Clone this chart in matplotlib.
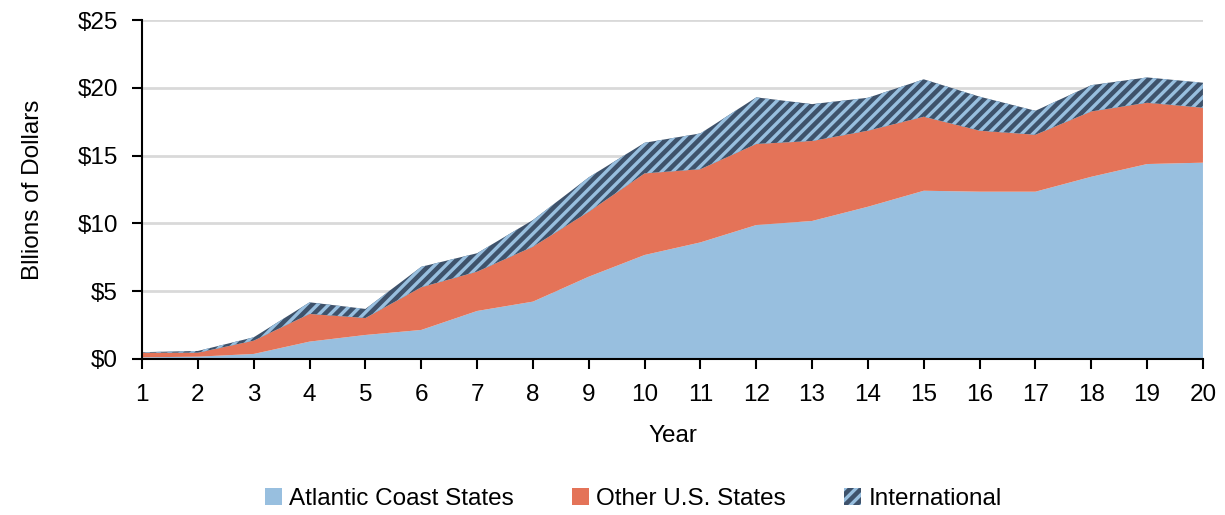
import matplotlib
matplotlib.use("Agg")
import matplotlib.pyplot as plt
import numpy as np

plt.rcParams['font.family'] = ['Liberation Sans', 'DejaVu Sans']
plt.rcParams['hatch.linewidth'] = 2.4

# values in billions of dollars
years = list(range(1, 21))
atlantic = [0.12, 0.17, 0.37, 1.28, 1.77, 2.14, 3.54, 4.23, 6.07, 7.67,
            8.6, 9.88, 10.18, 11.23, 12.41, 12.34, 12.34, 13.44, 14.38, 14.48]
other_us = [0.34, 0.29, 0.98, 2.04, 1.25, 3.15, 2.9, 4.05, 4.79, 6.02,
            5.4, 5.98, 5.9, 5.61, 5.46, 4.5, 4.2, 4.82, 4.52, 4.05]
international = [0.04, 0.13, 0.25, 0.86, 0.67, 1.51, 1.36, 1.97, 2.54, 2.26,
                 2.64, 3.44, 2.72, 2.43, 2.76, 2.51, 1.77, 1.94, 1.87, 1.85]
labels = ['Atlantic Coast States', 'Other U.S. States', 'International']
y_ticks = [0, 5, 10, 15, 20, 25]

blue = '#98bfdf'
orange = '#e47358'
navy = '#3e526b'

fig = plt.figure(figsize=(12.25, 5.15), dpi=100)
ax = fig.add_axes([0.116, 0.303, 0.866, 0.658])

a = np.array(atlantic)
b = a + np.array(other_us)
c = b + np.array(international)

ax.fill_between(years, 0, a, facecolor=blue, linewidth=0, label=labels[0], zorder=2)
ax.fill_between(years, a, b, facecolor=orange, linewidth=0, label=labels[1], zorder=2)
ax.fill_between(years, b, c, facecolor=navy, edgecolor=blue, hatch='///',
                linewidth=0, label=labels[2], zorder=2)

ax.set_xlim(1, 20)
ax.set_ylim(0, 25)
ax.set_xticks(years)
ax.set_yticks(y_ticks)
ax.set_yticklabels(['$' + str(v) for v in y_ticks])
ax.yaxis.grid(True, color='#d9d9d9', linewidth=2, zorder=0)
ax.set_axisbelow(True)

for s in ['top', 'right']:
    ax.spines[s].set_visible(False)
for s in ['left', 'bottom']:
    ax.spines[s].set_linewidth(1.5)
ax.tick_params(axis='both', labelsize=17.5, width=1.5, length=7, direction='out')
ax.tick_params(axis='x', pad=11)
ax.tick_params(axis='y', pad=10.5)

ax.set_xlabel('Year', fontsize=17.5, labelpad=14)
ax.set_ylabel('Bllions of Dollars', fontsize=17.5, labelpad=24)

fig.legend(loc='lower center', bbox_to_anchor=(0.517, -0.033), ncol=3, frameon=False,
           fontsize=17.5, handlelength=0.7, handleheight=0.7, handletextpad=0.3,
           columnspacing=2.4)

fig.savefig('out.png', dpi=100)
